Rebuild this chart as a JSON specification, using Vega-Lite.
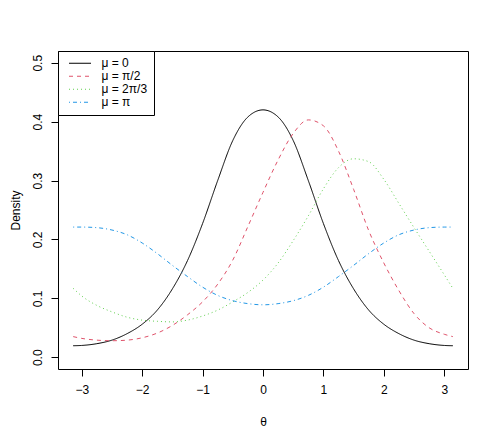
{
  "$schema": "https://vega.github.io/schema/vega-lite/v6.json",
  "width": 410,
  "height": 318,
  "autosize": {"type": "none"},
  "padding": {"left": 58, "top": 51, "right": 30, "bottom": 63},
  "background": "white",
  "config": {
    "font": "Liberation Sans",
    "view": {"stroke": "black", "strokeWidth": 1},
    "axis": {
      "grid": false,
      "domain": false,
      "tickColor": "black",
      "tickSize": 7,
      "labelColor": "black",
      "labelFontSize": 12,
      "titleColor": "black",
      "titleFontSize": 12,
      "titleFontWeight": "normal",
      "labelFont": "Liberation Sans",
      "titleFont": "Liberation Sans"
    }
  },
  "data": {
    "values": [
      {"series": "μ = 0", "theta": -3.14159, "density": 0.0195},
      {"series": "μ = 0", "theta": -3.0, "density": 0.020},
      {"series": "μ = 0", "theta": -2.75, "density": 0.023},
      {"series": "μ = 0", "theta": -2.5, "density": 0.029},
      {"series": "μ = 0", "theta": -2.25, "density": 0.040},
      {"series": "μ = 0", "theta": -2.0, "density": 0.056},
      {"series": "μ = 0", "theta": -1.75, "density": 0.080},
      {"series": "μ = 0", "theta": -1.5, "density": 0.116},
      {"series": "μ = 0", "theta": -1.25, "density": 0.164},
      {"series": "μ = 0", "theta": -1.0, "density": 0.227},
      {"series": "μ = 0", "theta": -0.75, "density": 0.300},
      {"series": "μ = 0", "theta": -0.5, "density": 0.368},
      {"series": "μ = 0", "theta": -0.25, "density": 0.408},
      {"series": "μ = 0", "theta": 0.0, "density": 0.420},
      {"series": "μ = 0", "theta": 0.25, "density": 0.408},
      {"series": "μ = 0", "theta": 0.5, "density": 0.368},
      {"series": "μ = 0", "theta": 0.75, "density": 0.300},
      {"series": "μ = 0", "theta": 1.0, "density": 0.227},
      {"series": "μ = 0", "theta": 1.25, "density": 0.164},
      {"series": "μ = 0", "theta": 1.5, "density": 0.116},
      {"series": "μ = 0", "theta": 1.75, "density": 0.080},
      {"series": "μ = 0", "theta": 2.0, "density": 0.056},
      {"series": "μ = 0", "theta": 2.25, "density": 0.040},
      {"series": "μ = 0", "theta": 2.5, "density": 0.029},
      {"series": "μ = 0", "theta": 2.75, "density": 0.023},
      {"series": "μ = 0", "theta": 3.0, "density": 0.020},
      {"series": "μ = 0", "theta": 3.14159, "density": 0.0195},

      {"series": "μ = π/2", "theta": -3.14159, "density": 0.035},
      {"series": "μ = π/2", "theta": -3.0, "density": 0.032},
      {"series": "μ = π/2", "theta": -2.75, "density": 0.029},
      {"series": "μ = π/2", "theta": -2.5, "density": 0.028},
      {"series": "μ = π/2", "theta": -2.25, "density": 0.029},
      {"series": "μ = π/2", "theta": -2.0, "density": 0.033},
      {"series": "μ = π/2", "theta": -1.75, "density": 0.041},
      {"series": "μ = π/2", "theta": -1.5, "density": 0.054},
      {"series": "μ = π/2", "theta": -1.25, "density": 0.072},
      {"series": "μ = π/2", "theta": -1.0, "density": 0.094},
      {"series": "μ = π/2", "theta": -0.75, "density": 0.124},
      {"series": "μ = π/2", "theta": -0.5, "density": 0.165},
      {"series": "μ = π/2", "theta": -0.25, "density": 0.222},
      {"series": "μ = π/2", "theta": 0.0, "density": 0.280},
      {"series": "μ = π/2", "theta": 0.25, "density": 0.335},
      {"series": "μ = π/2", "theta": 0.5, "density": 0.380},
      {"series": "μ = π/2", "theta": 0.75, "density": 0.403},
      {"series": "μ = π/2", "theta": 1.0, "density": 0.393},
      {"series": "μ = π/2", "theta": 1.25, "density": 0.350},
      {"series": "μ = π/2", "theta": 1.5, "density": 0.285},
      {"series": "μ = π/2", "theta": 1.75, "density": 0.215},
      {"series": "μ = π/2", "theta": 2.0, "density": 0.160},
      {"series": "μ = π/2", "theta": 2.25, "density": 0.113},
      {"series": "μ = π/2", "theta": 2.5, "density": 0.074},
      {"series": "μ = π/2", "theta": 2.75, "density": 0.050},
      {"series": "μ = π/2", "theta": 3.0, "density": 0.039},
      {"series": "μ = π/2", "theta": 3.14159, "density": 0.035},

      {"series": "μ = 2π/3", "theta": -3.14159, "density": 0.117},
      {"series": "μ = 2π/3", "theta": -3.0, "density": 0.104},
      {"series": "μ = 2π/3", "theta": -2.75, "density": 0.088},
      {"series": "μ = 2π/3", "theta": -2.5, "density": 0.077},
      {"series": "μ = 2π/3", "theta": -2.25, "density": 0.068},
      {"series": "μ = 2π/3", "theta": -2.0, "density": 0.063},
      {"series": "μ = 2π/3", "theta": -1.75, "density": 0.061},
      {"series": "μ = 2π/3", "theta": -1.5, "density": 0.060},
      {"series": "μ = 2π/3", "theta": -1.25, "density": 0.063},
      {"series": "μ = 2π/3", "theta": -1.0, "density": 0.070},
      {"series": "μ = 2π/3", "theta": -0.75, "density": 0.080},
      {"series": "μ = 2π/3", "theta": -0.5, "density": 0.094},
      {"series": "μ = 2π/3", "theta": -0.25, "density": 0.110},
      {"series": "μ = 2π/3", "theta": 0.0, "density": 0.131},
      {"series": "μ = 2π/3", "theta": 0.25, "density": 0.160},
      {"series": "μ = 2π/3", "theta": 0.5, "density": 0.198},
      {"series": "μ = 2π/3", "theta": 0.75, "density": 0.240},
      {"series": "μ = 2π/3", "theta": 1.0, "density": 0.286},
      {"series": "μ = 2π/3", "theta": 1.25, "density": 0.322},
      {"series": "μ = 2π/3", "theta": 1.5, "density": 0.337},
      {"series": "μ = 2π/3", "theta": 1.75, "density": 0.332},
      {"series": "μ = 2π/3", "theta": 2.0, "density": 0.302},
      {"series": "μ = 2π/3", "theta": 2.25, "density": 0.261},
      {"series": "μ = 2π/3", "theta": 2.5, "density": 0.220},
      {"series": "μ = 2π/3", "theta": 2.75, "density": 0.180},
      {"series": "μ = 2π/3", "theta": 3.0, "density": 0.140},
      {"series": "μ = 2π/3", "theta": 3.14159, "density": 0.117},

      {"series": "μ = π", "theta": -3.14159, "density": 0.221},
      {"series": "μ = π", "theta": -3.0, "density": 0.221},
      {"series": "μ = π", "theta": -2.75, "density": 0.220},
      {"series": "μ = π", "theta": -2.5, "density": 0.216},
      {"series": "μ = π", "theta": -2.25, "density": 0.208},
      {"series": "μ = π", "theta": -2.0, "density": 0.194},
      {"series": "μ = π", "theta": -1.75, "density": 0.176},
      {"series": "μ = π", "theta": -1.5, "density": 0.156},
      {"series": "μ = π", "theta": -1.25, "density": 0.137},
      {"series": "μ = π", "theta": -1.0, "density": 0.119},
      {"series": "μ = π", "theta": -0.75, "density": 0.105},
      {"series": "μ = π", "theta": -0.5, "density": 0.096},
      {"series": "μ = π", "theta": -0.25, "density": 0.091},
      {"series": "μ = π", "theta": 0.0, "density": 0.089},
      {"series": "μ = π", "theta": 0.25, "density": 0.091},
      {"series": "μ = π", "theta": 0.5, "density": 0.096},
      {"series": "μ = π", "theta": 0.75, "density": 0.105},
      {"series": "μ = π", "theta": 1.0, "density": 0.119},
      {"series": "μ = π", "theta": 1.25, "density": 0.137},
      {"series": "μ = π", "theta": 1.5, "density": 0.156},
      {"series": "μ = π", "theta": 1.75, "density": 0.176},
      {"series": "μ = π", "theta": 2.0, "density": 0.194},
      {"series": "μ = π", "theta": 2.25, "density": 0.208},
      {"series": "μ = π", "theta": 2.5, "density": 0.216},
      {"series": "μ = π", "theta": 2.75, "density": 0.220},
      {"series": "μ = π", "theta": 3.0, "density": 0.221},
      {"series": "μ = π", "theta": 3.14159, "density": 0.221}
    ]
  },
  "mark": {"type": "line", "strokeWidth": 1, "interpolate": "monotone", "clip": true},
  "encoding": {
    "x": {
      "field": "theta",
      "type": "quantitative",
      "scale": {"domain": [-3.3929, 3.3929], "nice": false, "zero": false},
      "axis": {
        "values": [-3, -2, -1, 0, 1, 2, 3],
        "format": "d",
        "labelPadding": 8,
        "title": "θ",
        "titleY": 52,
        "titleBaseline": "middle"
      }
    },
    "y": {
      "field": "density",
      "type": "quantitative",
      "scale": {"domain": [-0.02, 0.52], "nice": false, "zero": false},
      "axis": {
        "values": [0, 0.1, 0.2, 0.3, 0.4, 0.5],
        "format": ".1f",
        "labelAngle": -90,
        "labelAlign": "center",
        "labelBaseline": "alphabetic",
        "labelPadding": 10,
        "title": "Density",
        "titleAngle": -90,
        "titleX": -43,
        "titleBaseline": "middle"
      }
    },
    "color": {
      "field": "series",
      "type": "nominal",
      "scale": {
        "domain": ["μ = 0", "μ = π/2", "μ = 2π/3", "μ = π"],
        "range": ["#000000", "#DF536B", "#61D04F", "#2297E6"]
      },
      "legend": {
        "title": null,
        "orient": "none",
        "legendX": 0,
        "legendY": 0,
        "symbolType": "stroke",
        "symbolSize": 484,
        "symbolStrokeWidth": 1,
        "symbolOffset": 4,
        "clipHeight": 11.5,
        "labelFontSize": 12,
        "labelFont": "Liberation Sans",
        "labelColor": "black",
        "labelOffset": 10,
        "rowPadding": 0,
        "padding": 6.5,
        "strokeColor": "black",
        "fillColor": "white",
        "cornerRadius": 0
      }
    },
    "strokeDash": {
      "field": "series",
      "type": "nominal",
      "scale": {
        "domain": ["μ = 0", "μ = π/2", "μ = 2π/3", "μ = π"],
        "range": [[1, 0], [4, 4], [1, 3], [1, 3, 4, 3]]
      },
      "legend": null
    }
  }
}
